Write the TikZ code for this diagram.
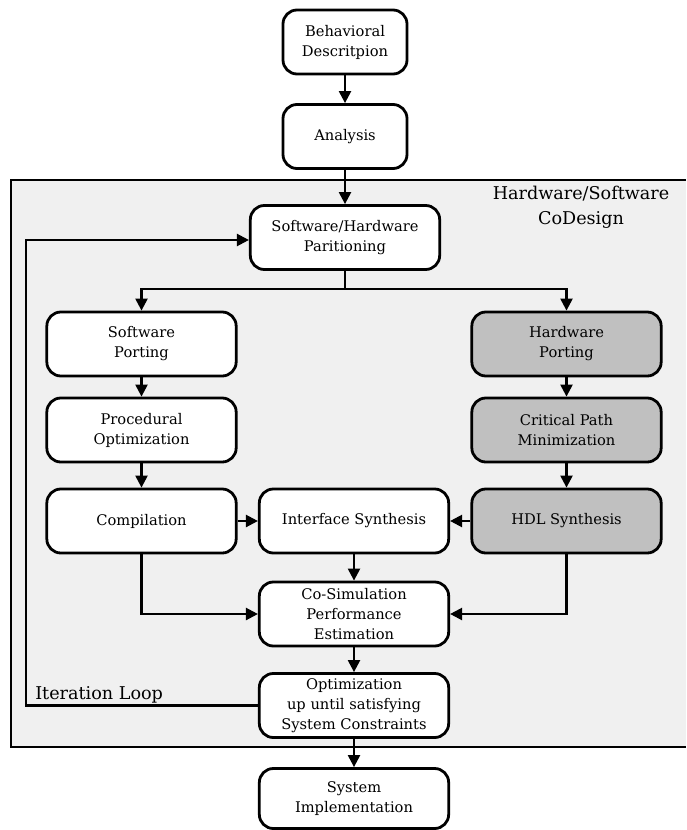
\documentclass[tikz,border=0pt]{standalone}
\usepackage{fontspec}
\setmainfont{DejaVu Serif}
\usetikzlibrary{arrows.meta}
\definecolor{framefill}{RGB}{240,240,240}
\definecolor{hwfill}{RGB}{192,192,192}
\begin{document}
\begin{tikzpicture}[x=0.75pt,y=-0.75pt,
  stepbox/.style={draw=black, line width=2.1pt, rounded corners=10.5pt, fill=white,
    minimum width=142pt, minimum height=48pt, inner sep=0pt, align=center,
    font=\fontsize{11}{15}\selectfont},
  hwbox/.style={stepbox, fill=hwfill},
  topbox/.style={stepbox, minimum width=93pt},
  flow/.style={draw=black, line width=1.7pt, -{Triangle[length=9pt,width=9pt]}},
  plain/.style={draw=black, line width=1.7pt},
  biglabel/.style={font=\fontsize{13.2}{18.75}\selectfont, inner sep=0pt}]
\useasboundingbox (0,0) rectangle (686,830);

% CoDesign frame
\fill[framefill] (11,180) rectangle (686,747);
\draw[line width=1.6pt] (686,180) -- (11,180) -- (11,747) -- (686,747);
\node[biglabel, align=center, anchor=north] (cdlabel) at (581,186)
  {Hardware/Software\\CoDesign};

% process steps
\node[topbox] (beh)  at (345,42)    {Behavioral\\Descritpion};
\node[topbox] (ana)  at (345,136.5) {Analysis};
\node[stepbox] (part) at (345,237.5) {Software/Hardware\\Paritioning};

\node[stepbox] (swp)  at (141.5,344) {Software\\Porting};
\node[stepbox] (proc) at (141.5,430) {Procedural\\Optimization};
\node[stepbox] (comp) at (141.5,521) {Compilation};

\node[hwbox] (hwp)  at (566.5,344) {Hardware\\Porting};
\node[hwbox] (crit) at (566.5,430) {Critical Path\\Minimization};
\node[hwbox] (hdl)  at (566.5,521) {HDL Synthesis};

\node[stepbox] (intf)  at (354,521)   {Interface Synthesis};
\node[stepbox] (cosim) at (354,614)   {Co-Simulation\\Performance\\Estimation};
\node[stepbox] (opt)   at (354,705.5) {Optimization\\up until satisfying\\System Constraints};
\node[stepbox, minimum height=45pt] (impl) at (354,798.5) {System\\Implementation};

\node[biglabel, anchor=base west] (looplabel) at (35,699) {Iteration Loop};

% connectors
\draw[flow] (beh) -- (ana);
\draw[flow] (ana) -- (part);
\coordinate (split) at (345,289);
\draw[plain] (part.south) -- (split);
\draw[flow] (split) -| (swp.north);
\draw[flow] (split) -| (hwp.north);

\draw[flow] (swp) -- (proc);
\draw[flow] (proc) -- (comp);
\draw[flow] (hwp) -- (crit);
\draw[flow] (crit) -- (hdl);

\draw[flow] (comp) -- (intf);
\draw[flow] (hdl) -- (intf);
\draw[flow] (comp.south) |- (cosim.west);
\draw[flow] (hdl.south) |- (cosim.east);
\draw[flow] (intf) -- (cosim);
\draw[flow] (cosim) -- (opt);
\draw[flow] (opt) -- (impl);

% iteration loop back to partitioning
\coordinate (loopcorner) at (26,240);
\draw[flow] (opt.west) -| (loopcorner) -- (loopcorner -| part.west);
\end{tikzpicture}
\end{document}
